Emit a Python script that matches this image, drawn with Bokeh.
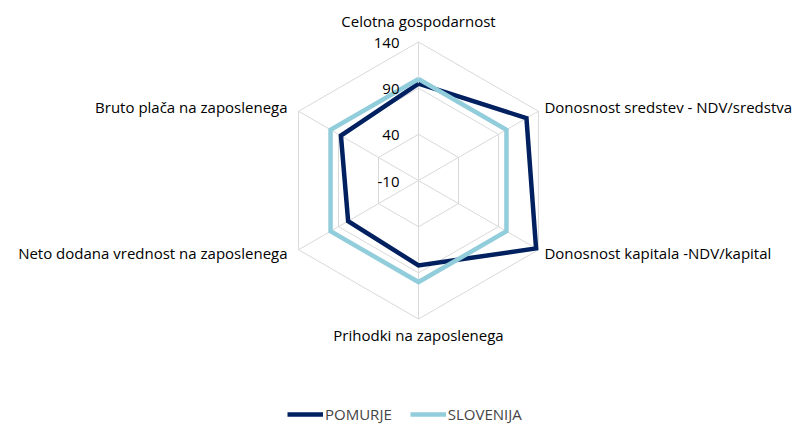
import math
from bokeh.plotting import figure
from bokeh.models import Range1d, ColumnDataSource, Legend, LegendItem
from bokeh.core.properties import value
from bokeh.embed import file_html
from bokeh.resources import INLINE

categories = [
    "Celotna gospodarnost",
    "Donosnost sredstev - NDV/sredstva",
    "Donosnost kapitala -NDV/kapital",
    "Prihodki na zaposlenega",
    "Neto dodana vrednost na zaposlenega",
    "Bruto plača na zaposlenega",
]
pomurje = [95, 125, 137, 82, 78, 87]
slovenija = [100, 100, 100, 100, 100, 100]
ticks = [-10, 40, 90, 140]
tick_labels = ["-10", "40", "90", "140"]

FONT = value("Open Sans")
FS = "15px"
GRID = "#D9D9D9"
DARK = "#002060"
LIGHT = "#92CDDC"

R = 138.5
vmin, vmax = ticks[0], ticks[-1]
n = len(categories)
angles = [math.pi / 2 - 2 * math.pi * i / n for i in range(n)]


def rad(v):
    return (v - vmin) / (vmax - vmin) * R


def poly(vals):
    xs = [rad(v) * math.cos(a) for v, a in zip(vals, angles)]
    ys = [rad(v) * math.sin(a) for v, a in zip(vals, angles)]
    return xs + xs[:1], ys + ys[:1]


W, H = 803, 424
p = figure(width=W, height=H, output_backend="svg", toolbar_location=None,
           x_range=Range1d(-418, 385), y_range=Range1d(-244, 180),
           min_border=0, outline_line_color=None)
p.axis.visible = False
p.grid.visible = False

# grid rings
for t in ticks[1:]:
    gx, gy = poly([t] * n)
    p.line(gx, gy, line_color=GRID, line_width=1)
# spokes
for a in angles:
    p.line([0, R * math.cos(a)], [0, R * math.sin(a)], line_color=GRID, line_width=1)

# series
px, py = poly(pomurje)
sx, sy = poly(slovenija)
r1 = p.line(px, py, line_color=DARK, line_width=4.5, line_join="miter")
r2 = p.line(sx, sy, line_color=LIGHT, line_width=4.5, line_join="miter")

# tick labels
tsrc = ColumnDataSource(dict(x=[-19] * len(ticks), y=[rad(t) - 1 for t in ticks], t=tick_labels))
p.text(x="x", y="y", text="t", source=tsrc, text_font=FONT, text_font_size=FS,
       text_align="right", text_baseline="middle", text_color="#000000")

# category labels
lx, ly, la, lb = [], [], [], []
for c, a in zip(categories, angles):
    ca, sa = math.cos(a), math.sin(a)
    if abs(ca) < 0.01:
        lx.append(0)
        if sa > 0:
            ly.append(R + 11)
            lb.append("bottom")
        else:
            ly.append(-R - 6)
            lb.append("top")
        la.append("center")
    else:
        lx.append(R * ca + (6 if ca > 0 else -11))
        ly.append(R * sa + (4 if sa > 0 else -3))
        la.append("left" if ca > 0 else "right")
        lb.append("middle")
for x, y, c, a, b in zip(lx, ly, categories, la, lb):
    p.text(x=[x], y=[y], text=[c], text_font=FONT, text_font_size=FS,
           text_align=a, text_baseline=b, text_color="#000000")

legend = Legend(items=[LegendItem(label="POMURJE", renderers=[r1]),
                       LegendItem(label="SLOVENIJA", renderers=[r2])],
                orientation="horizontal", location=(287, 0),
                label_text_font="Open Sans", label_text_font_size=FS,
                glyph_width=36, glyph_height=12, label_standoff=2, spacing=18,
                border_line_color=None, background_fill_alpha=0,
                padding=0, margin=0)
p.add_layout(legend, "center")

open("out.html", "w").write(file_html(p, INLINE))
